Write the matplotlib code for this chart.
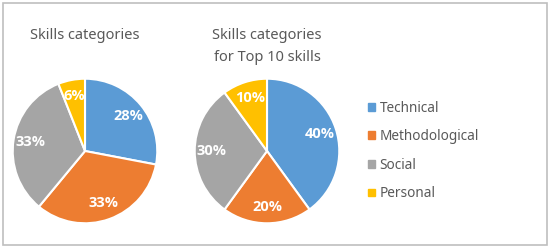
import matplotlib
matplotlib.use('Agg')
import matplotlib.pyplot as plt
from matplotlib.patches import Rectangle

plt.rcParams['font.family'] = ['Noto Sans', 'DejaVu Sans']

categories = ['Technical', 'Methodological', 'Social', 'Personal']
all_skills = [28, 33, 33, 6]
top10_skills = [40, 20, 30, 10]
titles = ['Skills categories', 'Skills categories\nfor Top 10 skills']
colors = ['#5B9BD5', '#ED7D31', '#A5A5A5', '#FFC000']

W, H = 550, 247
fig = plt.figure(figsize=(W / 100, H / 100), dpi=100)

# light frame round the whole chart
fig.patches.append(Rectangle((3 / W, 2 / H), 544 / W, 242 / H, transform=fig.transFigure,
                             fill=False, edgecolor='#BFBFBF', linewidth=1.2))

centers = [(85, 151), (267, 151)]
r = 73
for (cx, cy), vals, title in zip(centers, [all_skills, top10_skills], titles):
    ax = fig.add_axes([(cx - r) / W, (H - cy - r) / H, 2 * r / W, 2 * r / H])
    wedges, texts, autotexts = ax.pie(vals, colors=colors, startangle=90, counterclock=False,
                                      autopct='%d%%', pctdistance=0.77,
                                      wedgeprops=dict(edgecolor='white', linewidth=1.5),
                                      textprops=dict(color='white', fontsize=10.5, fontweight='bold',
                                                     family=['Open Sans', 'DejaVu Sans']))
    ax.set_xlim(-1.01, 1.01)
    ax.set_ylim(-1.01, 1.01)
    ax.axis('off')
    fig.text(cx / W, (H - 28) / H, title, ha='center', va='top', fontsize=10.5,
             color='#595959', linespacing=1.65)

handles = [Rectangle((0, 0), 1, 1, color=c) for c in colors]
fig.legend(handles, categories, loc='center left', bbox_to_anchor=(368 / W, (H - 151) / H),
           frameon=False, fontsize=9.8, labelcolor='#595959', handlelength=0.5, handleheight=0.5,
           handletextpad=0.35, labelspacing=1.0, borderpad=0, borderaxespad=0)

fig.savefig('out.png', dpi=100)
